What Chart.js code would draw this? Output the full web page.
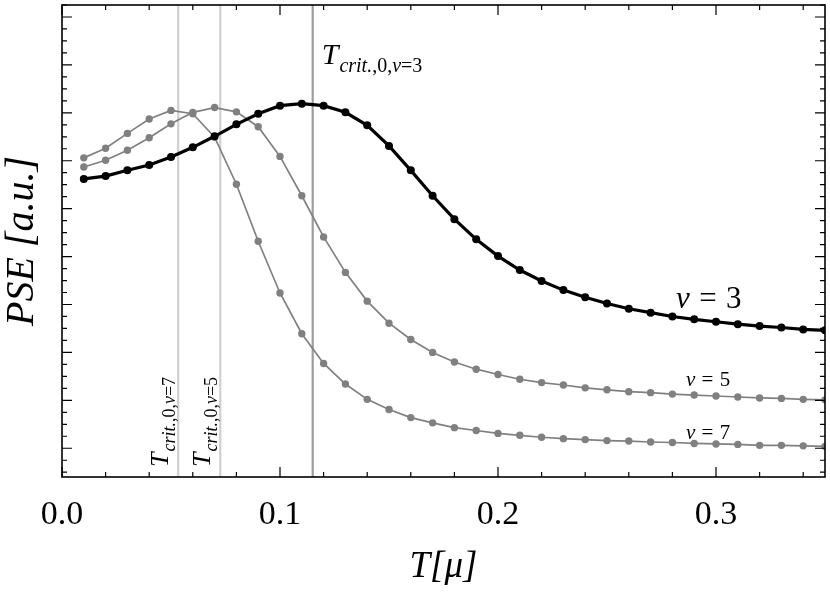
<!DOCTYPE html>
<html>
<head>
<meta charset="utf-8">
<script src="https://cdn.jsdelivr.net/npm/chart.js@4.4.1/dist/chart.umd.min.js"></script>
<style>
html,body{margin:0;padding:0;background:#fff;}
canvas{display:block;}
</style>
</head>
<body>
<canvas id="c" width="830" height="592"></canvas>
<script>
// ---- data ----
const temperatures = [0.01,0.02,0.03,0.04,0.05,0.06,0.07,0.08,0.09,0.10,
                      0.11,0.12,0.13,0.14,0.15,0.16,0.17,0.18,0.19,0.20,
                      0.21,0.22,0.23,0.24,0.25,0.26,0.27,0.28,0.29,0.30,
                      0.31,0.32,0.33,0.34,0.35];
const pseNu3 = [5.62,5.68,5.80,5.91,6.08,6.28,6.51,6.76,6.98,7.15,
                7.19,7.15,7.01,6.74,6.31,5.80,5.27,4.78,4.36,4.01,
                3.72,3.49,3.30,3.15,3.02,2.91,2.83,2.75,2.69,2.64,
                2.59,2.55,2.52,2.48,2.46];
const pseNu5 = [5.87,6.01,6.22,6.48,6.77,7.01,7.11,7.02,6.71,6.09,
                5.27,4.41,3.67,3.07,2.61,2.27,2.00,1.80,1.65,1.54,
                1.44,1.37,1.32,1.26,1.22,1.18,1.16,1.13,1.11,1.09,
                1.07,1.05,1.04,1.02,1.01];
const pseNu7 = [6.06,6.26,6.57,6.87,7.05,6.98,6.49,5.51,4.32,3.24,
                2.39,1.77,1.34,1.02,0.81,0.64,0.53,0.43,0.37,0.31,
                0.27,0.23,0.20,0.18,0.16,0.15,0.13,0.12,0.10,0.09,
                0.08,0.06,0.06,0.05,0.04];
const seriesNames = ['3','5','7'];
const critTemps = [0.1150, 0.0726, 0.0533];   // T_crit,0 for nu = 3, 5, 7
// ---- axes / ticks ----
const xRange = [0, 0.35];
const xMinorTicks = [0,0.02,0.04,0.06,0.08,0.10,0.12,0.14,0.16,0.18,0.20,0.22,0.24,0.26,0.28,0.30,0.32,0.34];
const xMajorTicks = [0, 0.1, 0.2, 0.3];
const xMajorLabels = ['0.0','0.1','0.2','0.3'];
const yRange = [-0.6, 9.25];
const yMajorTicks = [0,1,2,3,4,5,6,7,8,9];
const yMinorTicks = [-0.5,-0.25,0.25,0.5,0.75,1.25,1.5,1.75,2.25,2.5,2.75,3.25,3.5,3.75,4.25,4.5,4.75,
                     5.25,5.5,5.75,6.25,6.5,6.75,7.25,7.5,7.75,8.25,8.5,8.75,9.25];

const SERIF = '"Liberation Serif","DejaVu Serif",serif';

function isMajor(v){ return xMajorTicks.some(m => Math.abs(m - v) < 1e-9); }

function drawRich(ctx, segs, x, y){
  let cx = x;
  for (const s of segs){
    if (s.gap) { cx += s.gap; continue; }
    ctx.font = (s.italic ? 'italic ' : '') + s.size + 'px ' + SERIF;
    ctx.fillText(s.text, cx, y + (s.dy || 0));
    cx += ctx.measureText(s.text).width;
  }
}
function critSegs(nu, big, small){
  const d = small * 0.38;
  return [
    {text:'T', size:big, italic:true},
    {gap:1},
    {text:'crit.', size:small, italic:true, dy:d},
    {text:',0,', size:small, italic:false, dy:d},
    {text:'ν', size:small, italic:true, dy:d},
    {text:'=' + nu, size:small, italic:false, dy:d}
  ];
}
function nuSegs(nu, size){
  return [
    {text:'ν', size:size, italic:true},
    {gap:size*0.3},
    {text:'=', size:size},
    {gap:size*0.3},
    {text:nu, size:size}
  ];
}

const framePlugin = {
  id:'frame',
  afterDatasetsDraw(chart){
    const {ctx, chartArea:a, scales:{x, y}} = chart;
    ctx.save();
    ctx.strokeStyle = '#000';
    ctx.lineWidth = 1.6;
    ctx.strokeRect(a.left, a.top, a.right - a.left, a.bottom - a.top);
    ctx.lineWidth = 1.2;
    ctx.beginPath();
    for (const v of xMinorTicks){
      const px = x.getPixelForValue(v);
      const len = isMajor(v) ? 10 : 5;
      ctx.moveTo(px, a.bottom); ctx.lineTo(px, a.bottom - len);
      ctx.moveTo(px, a.top); ctx.lineTo(px, a.top + len);
    }
    for (const v of yMajorTicks.concat(yMinorTicks)){
      const py = y.getPixelForValue(v);
      const len = yMajorTicks.includes(v) ? 10 : 5;
      ctx.moveTo(a.left, py); ctx.lineTo(a.left + len, py);
      ctx.moveTo(a.right, py); ctx.lineTo(a.right - len, py);
    }
    ctx.stroke();
    ctx.restore();
  }
};

const labelPlugin = {
  id:'labels',
  afterDatasetsDraw(chart){
    const {ctx, chartArea:a, scales:{x, y}} = chart;
    ctx.save();
    ctx.fillStyle = '#000';
    ctx.textBaseline = 'alphabetic';
    ctx.textAlign = 'left';
    // T_crit nu=3 (horizontal)
    drawRich(ctx, critSegs('3', 30, 20), x.getPixelForValue(critTemps[0]) + 9, y.getPixelForValue(8.02));
    // rotated labels for nu=5, nu=7
    [[critTemps[1], '5'], [critTemps[2], '7']].forEach(([t, nu]) => {
      ctx.save();
      ctx.translate(x.getPixelForValue(t) - 10, a.bottom - 10);
      ctx.rotate(-Math.PI / 2);
      drawRich(ctx, critSegs(nu, 26, 18), 0, 0);
      ctx.restore();
    });
    // curve labels
    drawRich(ctx, nuSegs('3', 31), x.getPixelForValue(0.2817), y.getPixelForValue(2.92));
    drawRich(ctx, nuSegs('5', 21), x.getPixelForValue(0.2862), y.getPixelForValue(1.29));
    drawRich(ctx, nuSegs('7', 21), x.getPixelForValue(0.2862), y.getPixelForValue(0.20));
    ctx.restore();
  }
};

const pts = arr => temperatures.map((t, i) => ({x:t, y:arr[i]}));
const vline = t => [{x:t, y:yRange[0]}, {x:t, y:yRange[1]}];

new Chart(document.getElementById('c'), {
  type:'line',
  data:{
    datasets:[
      {label:'ν = ' + seriesNames[0], data:pts(pseNu3), borderColor:'#000', backgroundColor:'#000',
       borderWidth:3.2, pointRadius:4, pointBorderWidth:0, tension:0, order:1},
      {label:'ν = ' + seriesNames[1], data:pts(pseNu5), borderColor:'#808080', backgroundColor:'#808080',
       borderWidth:1.7, pointRadius:3.7, pointBorderWidth:0, tension:0, order:2},
      {label:'ν = ' + seriesNames[2], data:pts(pseNu7), borderColor:'#808080', backgroundColor:'#808080',
       borderWidth:1.7, pointRadius:3.7, pointBorderWidth:0, tension:0, order:3},
      {label:'Tcrit ν=3', data:vline(critTemps[0]), borderColor:'#9c9c9c', borderWidth:2.2, pointRadius:0, order:10},
      {label:'Tcrit ν=5', data:vline(critTemps[1]), borderColor:'#d0d0d0', borderWidth:2.2, pointRadius:0, order:11},
      {label:'Tcrit ν=7', data:vline(critTemps[2]), borderColor:'#d0d0d0', borderWidth:2.2, pointRadius:0, order:12}
    ]
  },
  options:{
    responsive:false,
    animation:false,
    events:[],
    layout:{padding:{top:5, right:5, left:0, bottom:0}},
    plugins:{legend:{display:false}, tooltip:{enabled:false}},
    scales:{
      x:{
        type:'linear', min:xRange[0], max:xRange[1],
        afterBuildTicks:s => { s.ticks = xMinorTicks.map(v => ({value:v})); },
        afterFit:s => { s.height = 115; },
        grid:{display:false, drawTicks:false},
        border:{display:false},
        ticks:{
          autoSkip:false, maxRotation:0, padding:18, color:'#000',
          font:{family:SERIF, size:34},
          callback:v => { const i = xMajorTicks.findIndex(m => Math.abs(m - v) < 1e-9); return i >= 0 ? xMajorLabels[i] : ''; }
        },
        title:{display:true, text:'T[μ]', color:'#000', font:{family:SERIF, size:37, style:'italic'}, padding:{top:0, bottom:3}}
      },
      y:{
        type:'linear', min:yRange[0], max:yRange[1],
        afterFit:s => { s.width = 62; },
        grid:{display:false, drawTicks:false},
        border:{display:false},
        ticks:{display:false},
        title:{display:true, text:'PSE [a.u.]', color:'#000', font:{family:SERIF, size:40, style:'italic', lineHeight:1.1}, padding:{top:0, bottom:0}}
      }
    }
  },
  plugins:[framePlugin, labelPlugin]
});
</script>
</body>
</html>
